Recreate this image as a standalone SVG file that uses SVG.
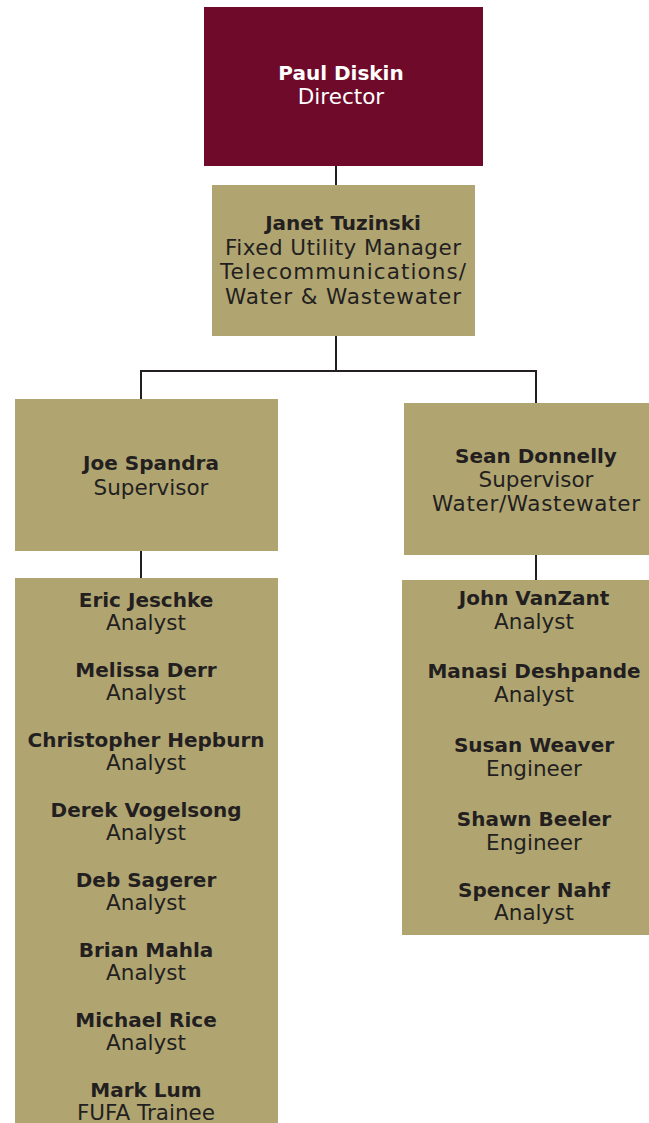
<svg xmlns="http://www.w3.org/2000/svg" width="649" height="1123" viewBox="0 0 649 1123">
<style>
.box{fill:#b0a571}
.dir{fill:#6f0a2a}
text{font-family:"DejaVu Sans","Liberation Sans",sans-serif;text-anchor:middle;fill:#231f20}
.n{font-weight:bold;font-size:20px}
.t{font-size:21.5px}
.w{fill:#ffffff}
.c{stroke:#231f20;stroke-width:2;fill:none}
</style>
<rect width="649" height="1123" fill="#ffffff"/>
<g id="connectors">
<path class="c" d="M336 166V185M336 336V371M141 371H536M141 370V399M536 370V403M141 551V578M536 555V580"/>
</g>
<g id="director">
<rect class="dir" x="204" y="7" width="279" height="159"/>
<text class="n w" x="341" y="80">Paul Diskin</text>
<text class="t w" x="341" y="104">Director</text>
</g>
<g id="manager">
<rect class="box" x="212" y="185" width="263" height="151"/>
<text class="n" x="343" y="230">Janet Tuzinski</text>
<text class="t" x="343" y="255" textLength="236" lengthAdjust="spacing">Fixed Utility Manager</text>
<text class="t" x="343" y="279" textLength="246" lengthAdjust="spacing">Telecommunications/</text>
<text class="t" x="343" y="304" textLength="236" lengthAdjust="spacing">Water &amp; Wastewater</text>
</g>
<g id="sup-left">
<rect class="box" x="15" y="399" width="263" height="152"/>
<text class="n" x="151" y="470">Joe Spandra</text>
<text class="t" x="151" y="495">Supervisor</text>
</g>
<g id="sup-right">
<rect class="box" x="404" y="403" width="245" height="152"/>
<text class="n" x="536" y="463">Sean Donnelly</text>
<text class="t" x="536" y="487">Supervisor</text>
<text class="t" x="536" y="511" textLength="208" lengthAdjust="spacing">Water/Wastewater</text>
</g>
<g id="team-left">
<rect class="box" x="15" y="578" width="263" height="545"/>
<text class="n" x="146" y="607">Eric Jeschke</text>
<text class="t" x="146" y="630">Analyst</text>
<text class="n" x="146" y="677">Melissa Derr</text>
<text class="t" x="146" y="700">Analyst</text>
<text class="n" x="146" y="747">Christopher Hepburn</text>
<text class="t" x="146" y="770">Analyst</text>
<text class="n" x="146" y="817">Derek Vogelsong</text>
<text class="t" x="146" y="840">Analyst</text>
<text class="n" x="146" y="887">Deb Sagerer</text>
<text class="t" x="146" y="910">Analyst</text>
<text class="n" x="146" y="957">Brian Mahla</text>
<text class="t" x="146" y="980">Analyst</text>
<text class="n" x="146" y="1027">Michael Rice</text>
<text class="t" x="146" y="1050">Analyst</text>
<text class="n" x="146" y="1097">Mark Lum</text>
<text class="t" x="146" y="1120">FUFA Trainee</text>
</g>
<g id="team-right">
<rect class="box" x="402" y="580" width="247" height="355"/>
<text class="n" x="534" y="605">John VanZant</text>
<text class="t" x="534" y="629">Analyst</text>
<text class="n" x="534" y="678">Manasi Deshpande</text>
<text class="t" x="534" y="702">Analyst</text>
<text class="n" x="534" y="752">Susan Weaver</text>
<text class="t" x="534" y="776">Engineer</text>
<text class="n" x="534" y="826">Shawn Beeler</text>
<text class="t" x="534" y="850">Engineer</text>
<text class="n" x="534" y="897">Spencer Nahf</text>
<text class="t" x="534" y="920">Analyst</text>
</g>
</svg>
